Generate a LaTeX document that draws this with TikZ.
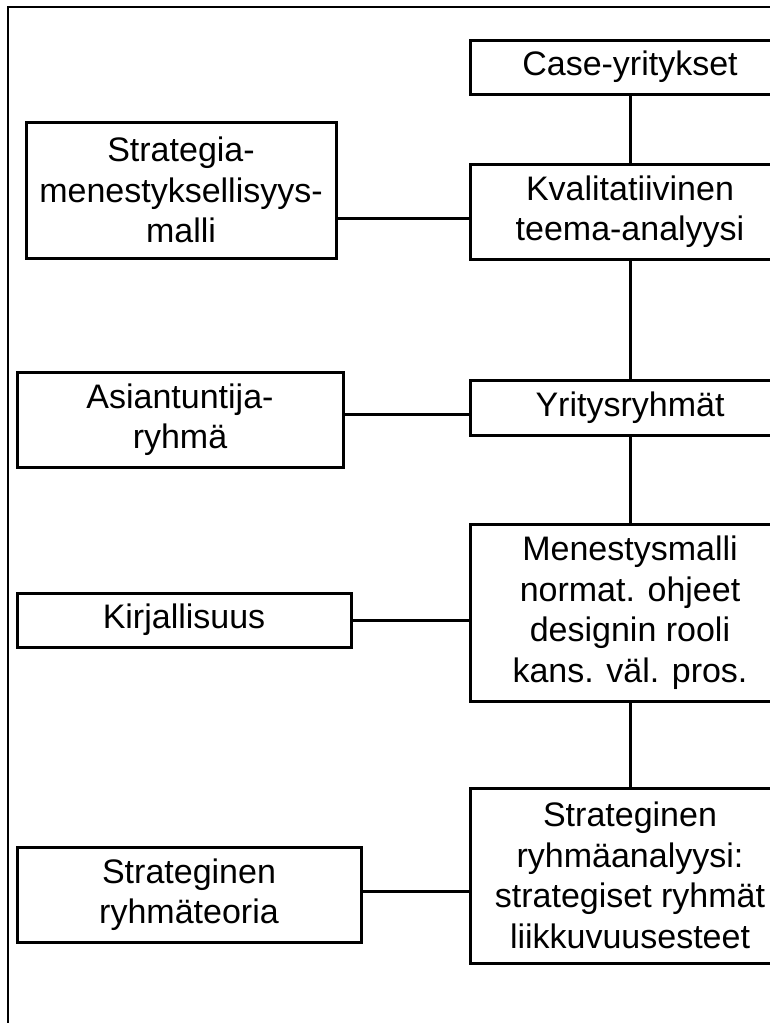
\documentclass[tikz,border=0pt]{standalone}
\usepackage{fontspec}
\setmainfont{Liberation Sans}
\usetikzlibrary{positioning}

\tikzset{
  box/.style={draw, rectangle, align=center, inner sep=0pt,
    font=\fontsize{34}{40.5}\selectfont},
  rbox/.style={box, minimum width=320pt}
}

\begin{document}
\begin{tikzpicture}[x=1pt, y=-1pt, line width=3pt]
            \useasboundingbox (0,0) rectangle (770,1023);
            \clip (0,0) rectangle (770,1023);
            \draw[line width=2.5pt] (8,7) rectangle (820,1060);

            \draw (630,67) node[rbox, minimum height=54pt]      (case) {Case-yritykset};
            \draw (630,211.5) node[rbox, minimum height=95pt]   (kval) {Kvalitatiivinen\\teema-analyysi};
            \draw (630,407.5) node[rbox, minimum height=55pt]   (yrit) {Yritysryhmät};
            \draw (630,612.5) node[rbox, minimum height=177pt]  (menes) {Menestysmalli\\normat. ohjeet\\designin rooli\\kans. väl. pros.};
            \draw (630,875.5) node[rbox, minimum height=175pt]  (ryhma) {Strateginen\\ryhmäanalyysi:\\strategiset ryhmät\\liikkuvuusesteet};

            \draw (181,190) node[box, minimum width=310pt, minimum height=136pt]   (strat) {Strategia-\\menestyksellisyys-\\malli};
            \draw (180,419.5) node[box, minimum width=326pt, minimum height=95pt]  (asiant) {Asiantuntija-\\ryhmä};
            \draw (184,620) node[box, minimum width=334pt, minimum height=54pt]    (kirj) {Kirjallisuus};
            \draw (189,894.5) node[box, minimum width=344pt, minimum height=95pt]  (teoria) {Strateginen\\ryhmäteoria};

            \draw (case) -- (kval);
            \draw (kval) -- (yrit);
            \draw (yrit) -- (menes);
            \draw (menes) -- (ryhma);

            \coordinate (s1) at ([yshift=-28pt]strat.east);
            \draw (s1) -- (s1 -| kval.west);
            \coordinate (s2) at ([yshift=5.5pt]asiant.east);
            \draw (s2) -- (s2 -| yrit.west);
            \draw (kirj.east) -- (kirj.east -| menes.west);
            \coordinate (s4) at ([yshift=3.5pt]teoria.east);
            \draw (s4) -- (s4 -| ryhma.west);

            \end{tikzpicture}
\end{document}
